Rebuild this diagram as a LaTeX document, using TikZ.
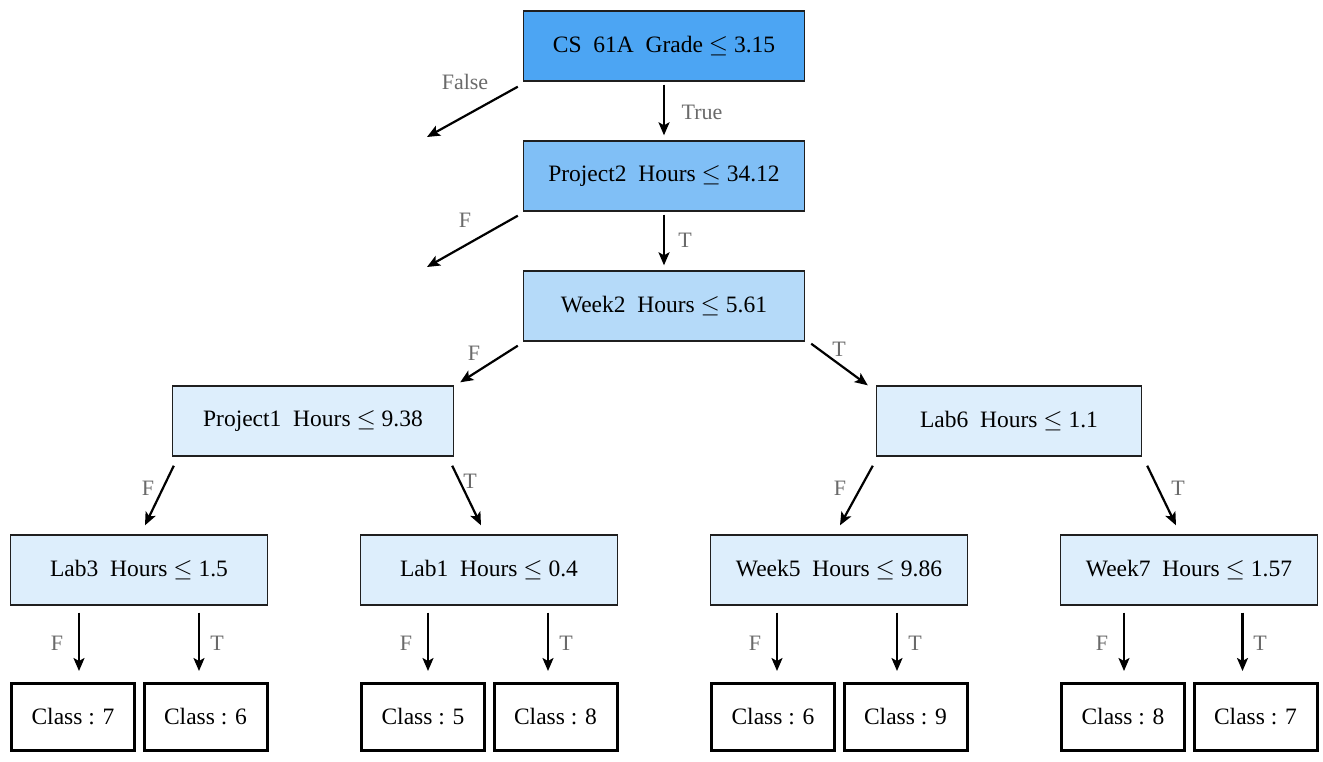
\documentclass[tikz,border=0pt]{standalone}
\usepackage{fontspec}
\setmainfont{Liberation Serif}
\usetikzlibrary{calc,arrows.meta}
\definecolor{lvlA}{HTML}{4CA5F3}
\definecolor{lvlB}{HTML}{80BFF6}
\definecolor{lvlC}{HTML}{B5DAF9}
\definecolor{lvlD}{HTML}{DDEEFC}
\definecolor{lblgray}{HTML}{6A6A6A}
\newcommand\wgap{\hspace{0.5em}}
\begin{document}
\begin{tikzpicture}[x=1pt,y=-1pt,
  split/.style={draw=black!88, line width=1.4pt, inner sep=0pt, minimum height=70pt,
    font=\fontsize{23.5}{28}\selectfont},
  leaf/.style={draw=black, line width=3pt, fill=white, inner sep=0pt,
    minimum width=123pt, minimum height=67pt, font=\fontsize{23.5}{28}\selectfont},
  lbl/.style={text=lblgray, inner sep=0pt, font=\fontsize{22}{26}\selectfont},
  arr/.style={line width=2.2pt, -{Stealth[length=13pt,width=11pt,inset=3pt]}}]
\useasboundingbox (0,0) rectangle (1323,761);

% split nodes
\node[split, fill=lvlA, minimum width=281pt] (root) at (664,46) {CS\wgap 61A\wgap Grade $\leq$ 3.15};
\node[split, fill=lvlB, minimum width=281pt] (p2) at (664,176) {Project2\wgap Hours $\leq$ 34.12};
\node[split, fill=lvlC, minimum width=281pt] (w2) at (664,306) {Week2\wgap Hours $\leq$ 5.61};
\node[split, fill=lvlD, minimum width=281pt] (p1) at (313,421) {Project1\wgap Hours $\leq$ 9.38};
\node[split, fill=lvlD, minimum width=265pt] (l6) at (1009,421) {Lab6\wgap Hours $\leq$ 1.1};
\node[split, fill=lvlD, minimum width=257pt] (lab3) at (139,570) {Lab3\wgap Hours $\leq$ 1.5};
\node[split, fill=lvlD, minimum width=257pt] (lab1) at (489,570) {Lab1\wgap Hours $\leq$ 0.4};
\node[split, fill=lvlD, minimum width=257pt] (w5) at (839,570) {Week5\wgap Hours $\leq$ 9.86};
\node[split, fill=lvlD, minimum width=257pt] (w7) at (1189,570) {Week7\wgap Hours $\leq$ 1.57};

% leaves
\node[leaf] (c1) at (73,717) {Class : 7};
\node[leaf] (c2) at (205.5,717) {Class : 6};
\node[leaf] (c3) at (423,717) {Class : 5};
\node[leaf] (c4) at (555.5,717) {Class : 8};
\node[leaf] (c5) at (773,717) {Class : 6};
\node[leaf] (c6) at (905.5,717) {Class : 9};
\node[leaf] (c7) at (1123,717) {Class : 8};
\node[leaf] (c8) at (1255.5,717) {Class : 7};

% free ends of the pruned branches
\coordinate (rootF) at (427,137);
\coordinate (p2F) at (427,267);

% upper connectors
\draw[arr] ([xshift=-5pt,yshift=-5pt]root.south west) -- (rootF);
\draw[arr] ([yshift=-3pt]root.south) -- ([yshift=5pt]p2.north);
\draw[arr] ([xshift=-5pt,yshift=-4pt]p2.south west) -- (p2F);
\draw[arr] ([yshift=-3pt]p2.south) -- ([yshift=5pt]w2.north);
\draw[arr] ([xshift=-5pt,yshift=-4pt]w2.south west) -- ([xshift=6pt,yshift=3pt]p1.north east);
\draw[arr] ([xshift=6pt,yshift=-2pt]w2.south east) -- ([xshift=-8pt]l6.north west);
\draw[arr] ([xshift=2pt,yshift=-9pt]p1.south west) -- ([xshift=6pt,yshift=9pt]lab3.north);
\draw[arr] ([xshift=-2pt,yshift=-9pt]p1.south east) -- ([xshift=-8pt,yshift=9pt]lab1.north);
\draw[arr] ([xshift=-3pt,yshift=-9pt]l6.south west) -- ([xshift=1pt,yshift=9pt]w5.north);
\draw[arr] ([xshift=5pt,yshift=-9pt]l6.south east) -- ([xshift=-13pt,yshift=9pt]w7.north);

% leaf connectors
\draw[arr] ([xshift=6pt,yshift=-7pt]c1.north |- lab3.south) -- ([xshift=6pt,yshift=11pt]c1.north);
\draw[arr] ([xshift=-6.5pt,yshift=-7pt]c2.north |- lab3.south) -- ([xshift=-6.5pt,yshift=11pt]c2.north);
\draw[arr] ([xshift=5pt,yshift=-7pt]c3.north |- lab1.south) -- ([xshift=5pt,yshift=11pt]c3.north);
\draw[arr] ([xshift=-7.5pt,yshift=-7pt]c4.north |- lab1.south) -- ([xshift=-7.5pt,yshift=11pt]c4.north);
\draw[arr] ([xshift=4pt,yshift=-7pt]c5.north |- w5.south) -- ([xshift=4pt,yshift=11pt]c5.north);
\draw[arr] ([xshift=-8.5pt,yshift=-7pt]c6.north |- w5.south) -- ([xshift=-8.5pt,yshift=11pt]c6.north);
\draw[arr] ([xshift=1pt,yshift=-7pt]c7.north |- w7.south) -- ([xshift=1pt,yshift=11pt]c7.north);
\draw[arr] ([xshift=-13pt,yshift=-7pt]c8.north |- w7.south) -- ([xshift=-13pt,yshift=11pt]c8.north);

% branch labels
\node[lbl] (tF0) at (465,82) {False};
\node[lbl] (tT0) at (702,112) {True};
\node[lbl] (tF1) at (465,220) {F};
\node[lbl] (tT1) at (685,240) {T};
\node[lbl] (tF2) at (474,353) {F};
\node[lbl] (tT2) at (839,349) {T};
\node[lbl] (tF3) at (148,488) {F};
\node[lbl] (tT3) at (470,481) {T};
\node[lbl] (tF4) at (840,488) {F};
\node[lbl] (tT4) at (1178,488) {T};
\node[lbl] (tF5) at (57,643) {F};
\node[lbl] (tT5) at (217,643) {T};
\node[lbl] (tF6) at (406,643) {F};
\node[lbl] (tT6) at (566,643) {T};
\node[lbl] (tF7) at (755,643) {F};
\node[lbl] (tT7) at (915,643) {T};
\node[lbl] (tF8) at (1102,643) {F};
\node[lbl] (tT8) at (1260,643) {T};
\end{tikzpicture}
\end{document}
